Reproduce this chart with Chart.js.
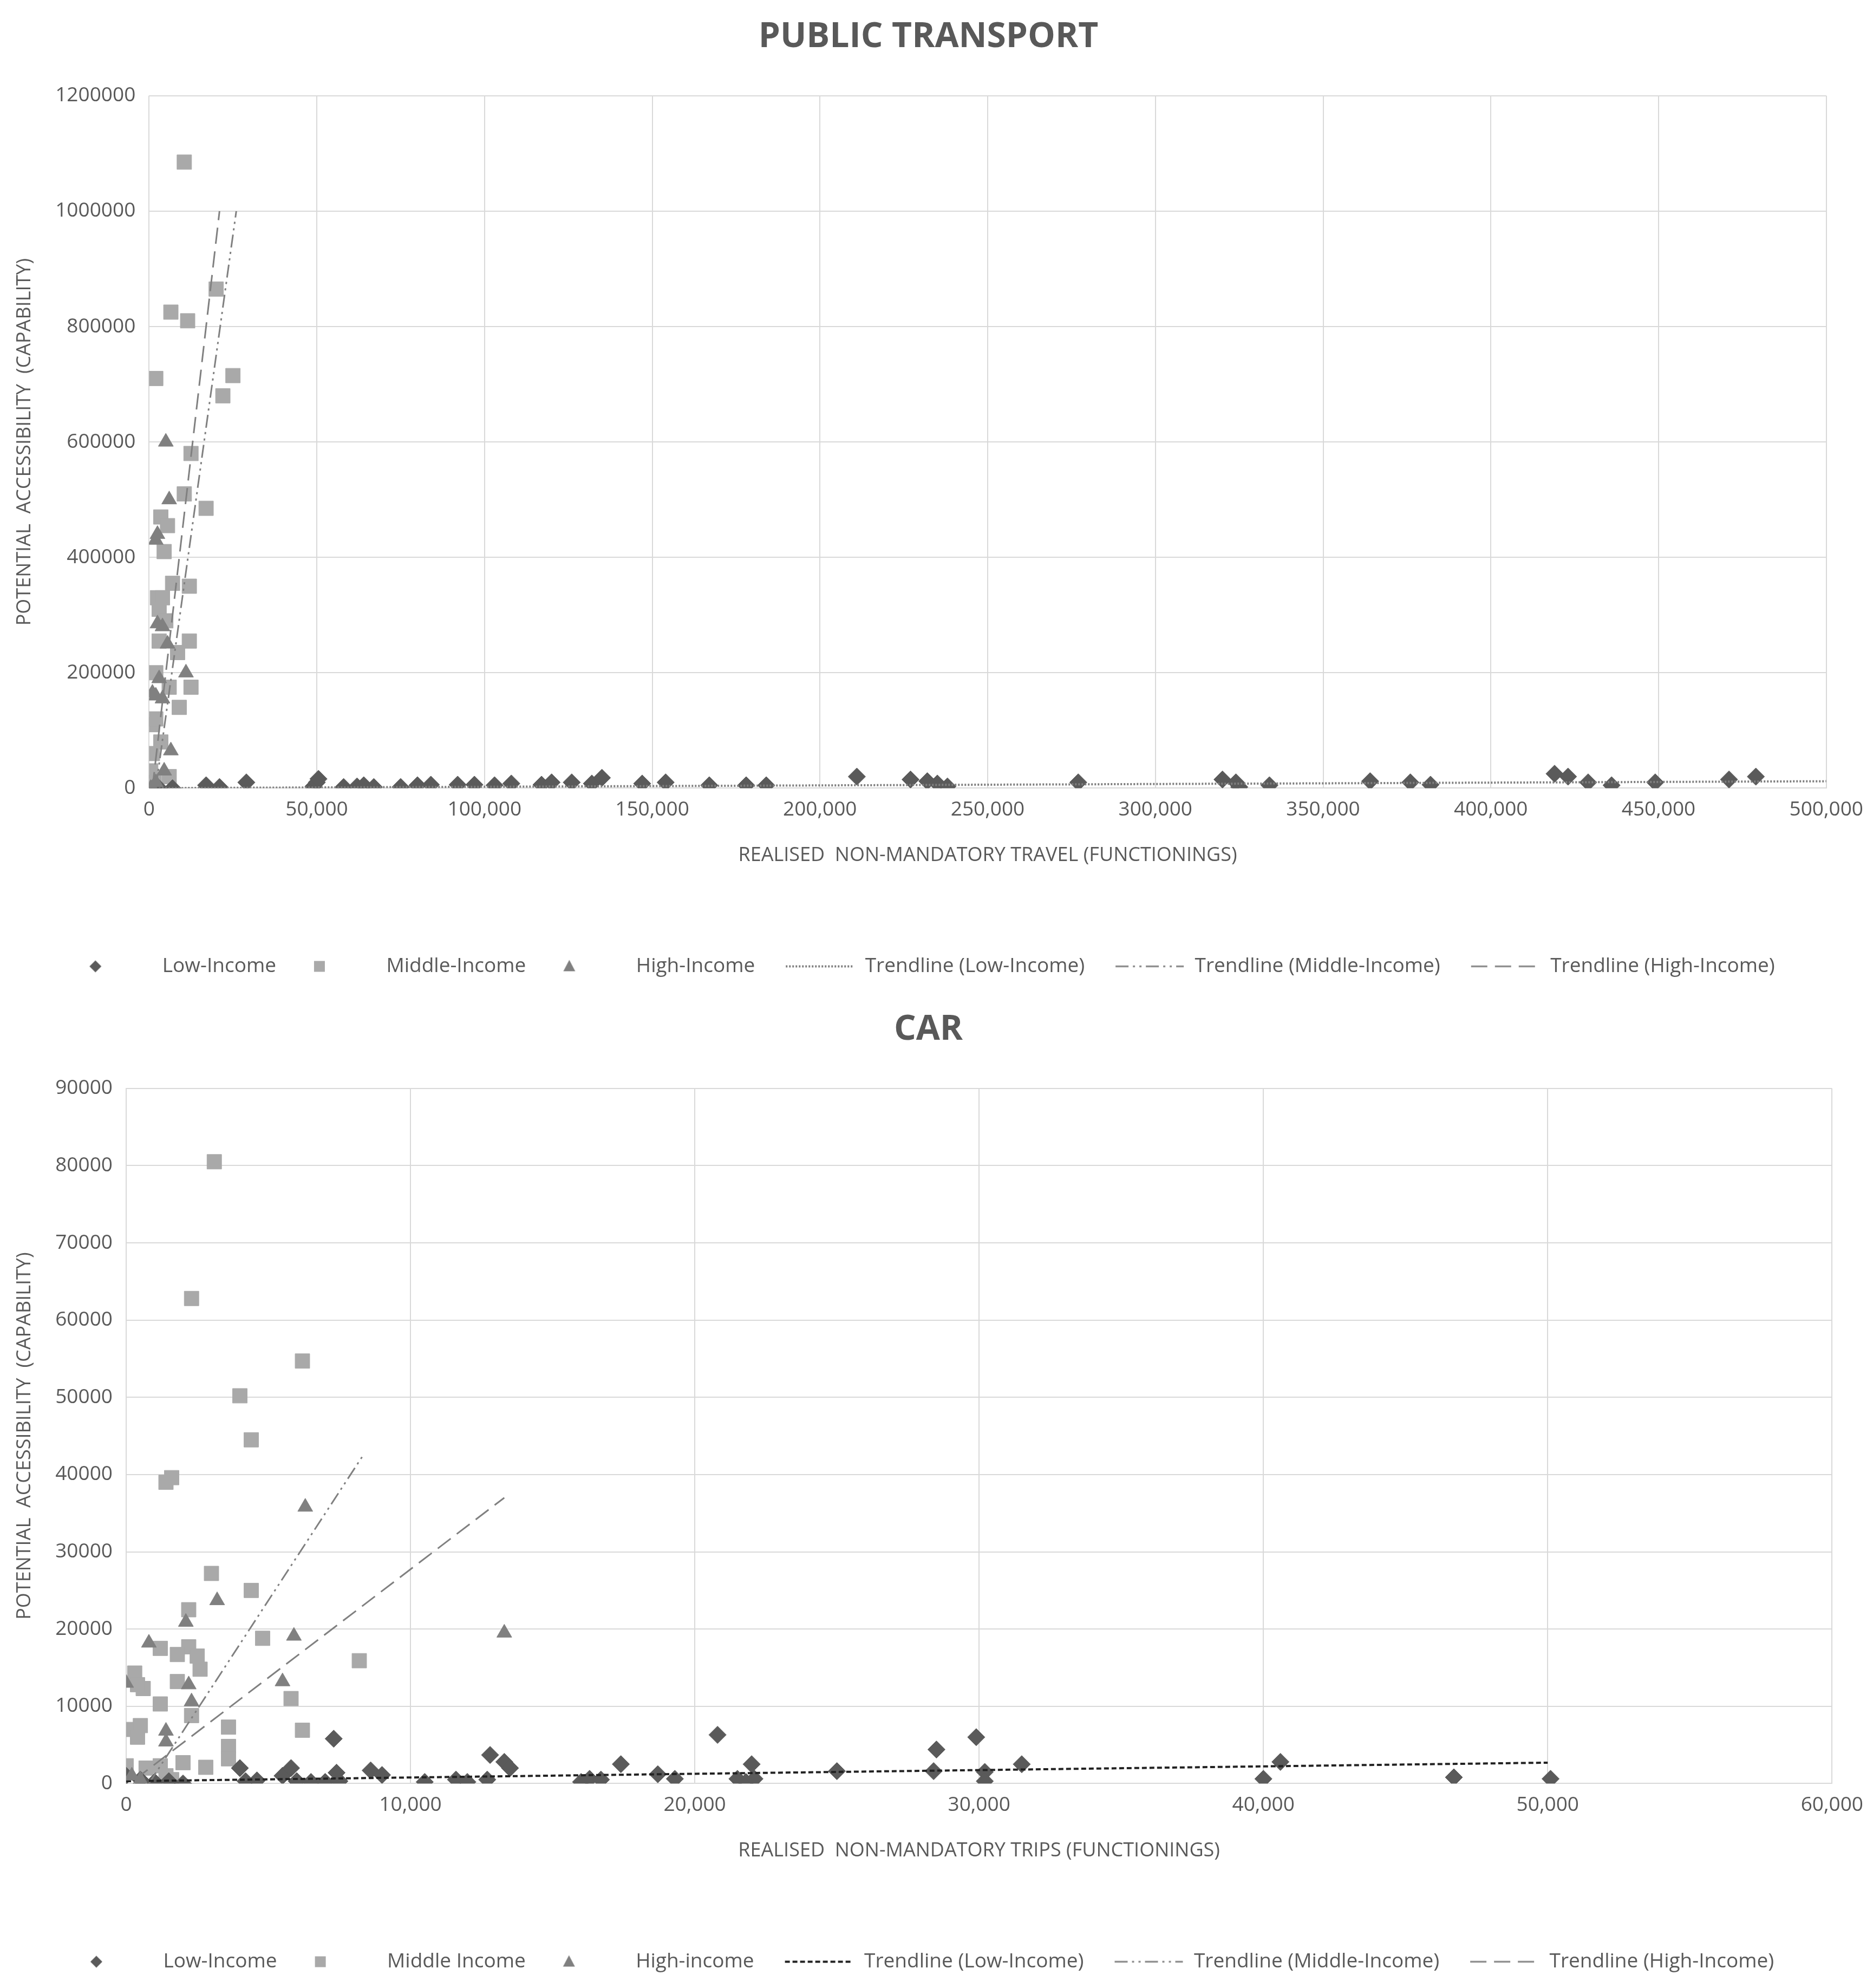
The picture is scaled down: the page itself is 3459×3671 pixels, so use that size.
<!DOCTYPE html>
<html><head><meta charset="utf-8">
<script src="https://cdn.jsdelivr.net/npm/chart.js@4"></script>
<style>body{margin:0;background:#fff}div{width:3459px;position:relative}#a{height:1833px}#b{height:1838px}</style>
</head><body>
<div id="a"><canvas id="c1"></canvas></div>
<div id="b"><canvas id="c2"></canvas></div>
<script>
// ---- PUBLIC TRANSPORT data ----
const ptLowX=[1500,3000,7000,17000,21000,29000,49000,50000,50500,58000,62000,64000,67000,75000,80000,84000,92000,97000,103000,108000,117000,120000,126000,132000,135000,147000,154000,167000,178000,184000,211000,227000,232000,235000,238000,277000,320000,324000,325000,334000,364000,376000,382000,419000,423000,429000,436000,449000,471000,479000];
const ptLowY=[2000,0,0,5000,2000,10000,3000,10000,16000,2000,3000,5000,2000,2000,5000,6000,6000,6000,5000,8000,6000,10000,10000,8000,18000,8000,10000,5000,5000,5000,20000,15000,12000,8000,3000,10000,15000,10000,2000,5000,12000,10000,6000,25000,20000,10000,5000,10000,15000,20000];
const ptMidX=[10500,6500,11500,20000,2000,25000,22000,12500,10500,17000,3500,4500,5500,12000,7000,2500,4000,3000,5000,12000,3000,2000,8500,9000,12500,6000,1000,3500,1000,500,6000,1500,500,2000];
const ptMidY=[1085000,825000,810000,865000,710000,715000,680000,580000,510000,485000,470000,410000,455000,350000,355000,330000,330000,310000,290000,255000,255000,200000,235000,140000,175000,175000,110000,80000,60000,30000,20000,10000,0,120000];
const ptHighX=[5000,6000,2000,2500,2500,4000,5500,11000,3000,1000,2000,4000,6500,4500,2000,500];
const ptHighY=[600000,500000,430000,440000,285000,280000,250000,200000,190000,165000,160000,155000,65000,30000,10000,0];
const ptTrendLow=[[0,0],[500000,12000]];
const ptTrendMid=[[2000,0],[26000,1000000]];
const ptTrendHigh=[[1000,0],[21000,1000000]];
// ---- CAR data ----
const carLowX=[0,500,1000,1500,2000,4000,4200,4600,5500,5800,6000,6500,7000,7300,7400,7500,8600,9000,10500,11600,12000,12700,12800,13300,13500,16000,16300,16700,17400,18700,19300,20800,21500,21800,22000,22100,25000,28400,28500,29900,30200,30200,31500,40000,40600,46700,50100];
const carLowY=[1000,500,200,300,0,2000,300,400,1000,2000,300,200,200,5800,1400,300,1700,1100,200,500,200,500,3700,2800,2000,200,600,500,2500,1200,600,6300,600,200,2500,600,1600,1600,4400,6000,1500,300,2500,600,2800,800,600];
const carMidX=[3100,2300,6200,4000,4400,1400,1600,3000,4400,2200,4800,8200,2200,1800,1200,300,2500,2600,1800,600,400,5800,1200,2300,3600,6200,500,0,400,3600,2000,3600,1200,700,2800,0,1400,1600];
const carMidY=[80500,62800,54700,50200,44500,39000,39600,27200,25000,22500,18800,15900,17700,16700,17500,14300,16500,14800,13200,12300,12800,11000,10300,8800,7300,6900,7500,7000,6000,4800,2700,3200,2300,2000,2100,2300,1000,500];
const carHighX=[6300,3200,2100,5900,13300,800,0,2200,5500,2300,1400,1400,200,500];
const carHighY=[35800,23700,20900,19100,19500,18200,13000,12800,13200,10600,6800,5400,1000,500];
const carTrendLow=[[0,300],[50000,2700]];
const carTrendMid=[[800,0],[8300,42300]];
const carTrendHigh=[[300,500],[13300,37000]];

const TXT='#595959', GRID='#d9d9d9', C_LOW='#5a5a5a', C_MID='#a9a9a9', C_HIGH='#808080';
const FONT='"Open Sans", Lato, sans-serif';
const zip=(xs,ys)=>xs.map((x,i)=>({x,y:ys[i]}));
const pts=a=>a.map(p=>({x:p[0],y:p[1]}));

function icon(kind,color,dash,lw){
  const c=document.createElement('canvas');c.width=130;c.height=40;const g=c.getContext('2d');
  g.fillStyle=color;g.strokeStyle=color;
  if(kind==='line'){g.lineWidth=lw;g.setLineDash(dash);g.beginPath();g.moveTo(2,20);g.lineTo(128,20);g.stroke();}
  else{const cx=25,cy=20;g.beginPath();
    if(kind==='d'){g.moveTo(cx,cy-11);g.lineTo(cx+11,cy);g.lineTo(cx,cy+11);g.lineTo(cx-11,cy);}
    else if(kind==='s'){g.rect(cx-10,cy-10,20,20);}
    else {g.moveTo(cx,cy-12);g.lineTo(cx+11,cy+9);g.lineTo(cx-11,cy+9);}
    g.closePath();g.fill();}
  return c;
}

function make(id,title,xTitle,yTitle,xmax,xstep,ymax,ystep,xComma,ds,names,dashes){
  const icons=[icon('d',C_LOW),icon('s',C_MID),icon('t',C_HIGH),
    icon('line',dashes[0][1],dashes[0][0],4),icon('line',C_HIGH,dashes[1],3),icon('line',C_HIGH,dashes[2],3)];
  const datasets=[
    {type:'scatter',label:names[0],data:ds[0],pointStyle:'rectRot',pointRadius:16,pointHoverRadius:16,backgroundColor:C_LOW,borderColor:C_LOW,order:1},
    {type:'scatter',label:names[1],data:ds[1],pointStyle:'rect',pointRadius:19,pointHoverRadius:19,backgroundColor:C_MID,borderColor:C_MID,order:2},
    {type:'scatter',label:names[2],data:ds[2],pointStyle:'triangle',pointRadius:16,pointHoverRadius:16,backgroundColor:C_HIGH,borderColor:C_HIGH,order:0},
    {type:'line',label:names[3],data:ds[3],borderColor:dashes[0][1],borderWidth:4,borderDash:dashes[0][0],pointRadius:0,fill:false},
    {type:'line',label:names[4],data:ds[4],borderColor:C_HIGH,borderWidth:3,borderDash:dashes[1],pointRadius:0,fill:false},
    {type:'line',label:names[5],data:ds[5],borderColor:C_HIGH,borderWidth:3,borderDash:dashes[2],pointRadius:0,fill:false}];
  new Chart(document.getElementById(id),{
    data:{datasets},
    options:{responsive:true,maintainAspectRatio:false,animation:false,devicePixelRatio:1,
      layout:{padding:{left:20,right:50,top:20,bottom:20}},
      plugins:{tooltip:{enabled:false},
        title:{display:true,text:title,color:TXT,font:{family:FONT,size:64,weight:'bold'},padding:{top:10,bottom:70}},
        legend:{position:'bottom',labels:{usePointStyle:true,pointStyleWidth:130,color:TXT,font:{family:FONT,size:37},padding:55,
          generateLabels:ch=>ch.data.datasets.map((d,i)=>({text:d.label,pointStyle:icons[i],fillStyle:'transparent',strokeStyle:'transparent',lineWidth:0,fontColor:TXT,datasetIndex:i}))}}},
      scales:{
        x:{type:'linear',min:0,max:xmax,border:{color:GRID},grid:{color:GRID,lineWidth:2,drawTicks:false},
          ticks:{stepSize:xstep,color:TXT,font:{family:FONT,size:37},padding:18,callback:v=>xComma?v.toLocaleString('en-US'):v},
          title:{display:true,text:xTitle,color:TXT,font:{family:FONT,size:36},padding:{top:22,bottom:110}}},
        y:{min:0,max:ymax,border:{color:GRID},grid:{color:GRID,lineWidth:2,drawTicks:false},
          ticks:{stepSize:ystep,color:TXT,font:{family:FONT,size:37},padding:25,callback:v=>v},
          title:{display:true,text:yTitle,color:TXT,font:{family:FONT,size:36},padding:{bottom:10}}}}}
  });
}
make('c1','PUBLIC TRANSPORT','REALISED  NON-MANDATORY TRAVEL (FUNCTIONINGS)','POTENTIAL  ACCESSIBILITY  (CAPABILITY)',500000,50000,1200000,200000,true,
  [zip(ptLowX,ptLowY),zip(ptMidX,ptMidY),zip(ptHighX,ptHighY),pts(ptTrendLow),pts(ptTrendMid),pts(ptTrendHigh)],
  ['Low-Income','Middle-Income','High-Income','Trendline (Low-Income)','Trendline (Middle-Income)','Trendline (High-Income)'],
  [[[3,3],'#7f7f7f'],[24,8,4,8,4,8],[30,14]]);
make('c2','CAR','REALISED  NON-MANDATORY TRIPS (FUNCTIONINGS)','POTENTIAL  ACCESSIBILITY  (CAPABILITY)',60000,10000,90000,10000,true,
  [zip(carLowX,carLowY),zip(carMidX,carMidY),zip(carHighX,carHighY),pts(carTrendLow),pts(carTrendMid),pts(carTrendHigh)],
  ['Low-Income','Middle Income','High-income','Trendline (Low-Income)','Trendline (Middle-Income)','Trendline (High-Income)'],
  [[[9,5],'#222222'],[24,8,4,8,4,8],[30,14]]);
</script>
</body></html>
